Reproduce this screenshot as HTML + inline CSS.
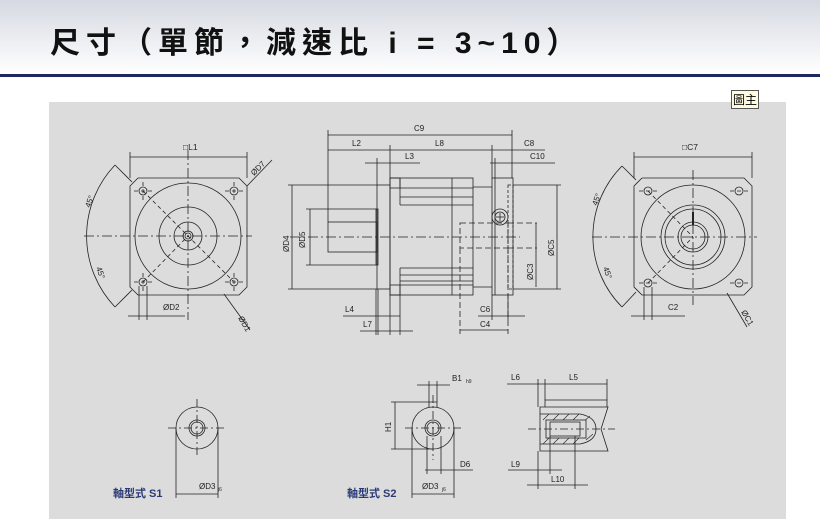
<!DOCTYPE html>
<html><head><meta charset="utf-8"><style>
html,body{margin:0;padding:0;width:820px;height:529px;overflow:hidden;background:#fff}
.hdr{position:absolute;left:0;top:0;width:820px;height:74px;background:linear-gradient(#d6d9e2,#ffffff)}
.title{position:absolute;left:50px;top:18px;font:bold 30px "Liberation Sans","Noto Sans CJK TC",sans-serif;color:#111;letter-spacing:6px;white-space:nowrap}
.line{position:absolute;left:0;top:74px;width:820px;height:3px;background:#1e2a5c}
.panel{position:absolute;left:49px;top:102px;width:737px;height:417px;background:#dcdcdc}
.tag{position:absolute;left:731px;top:90px;width:26px;height:17px;border:1px solid #555;background:#fffbe0;font:12px "Noto Sans CJK TC",sans-serif;line-height:17px;text-align:center;color:#000}
svg{position:absolute;left:0;top:0}
</style></head><body>
<div class="hdr"></div>
<div class="title">尺寸（單節，減速比 i = 3~10）</div>
<div class="line"></div>
<div class="panel"></div>
<div class="tag">圖主</div>
<svg width="820" height="529" viewBox="0 0 820 529" font-family="Liberation Sans, sans-serif" font-size="8" fill="none" stroke="#222" stroke-width="0.8">
<!-- LEFT VIEW -->
<g>
<path d="M138,178 L239,178 L247,186 L247,287 L239,295 L138,295 L130,287 L130,186 Z"/>
<circle cx="188" cy="236" r="53"/><circle cx="188" cy="236" r="29"/><circle cx="188" cy="236" r="14"/><circle cx="188" cy="236" r="5"/><circle cx="188" cy="236" r="3"/>
<g stroke-dasharray="10,3,2,3"><line x1="84" y1="236" x2="252" y2="236"/><line x1="188" y1="150" x2="188" y2="320"/></g>
<g><circle cx="143" cy="191" r="4"/><circle cx="234" cy="191" r="4"/><circle cx="143" cy="282" r="4"/><circle cx="234" cy="282" r="4"/></g>
<g stroke-dasharray="4,3"><line x1="134" y1="191" x2="152" y2="191"/><line x1="225" y1="191" x2="243" y2="191"/><line x1="134" y1="282" x2="152" y2="282"/><line x1="225" y1="282" x2="243" y2="282"/><line x1="143" y1="182" x2="143" y2="200"/><line x1="234" y1="182" x2="234" y2="200"/><line x1="143" y1="273" x2="143" y2="291"/><line x1="234" y1="273" x2="234" y2="291"/><line x1="143" y1="191" x2="233" y2="281"/><line x1="143" y1="282" x2="188" y2="236"/></g>
<path d="M115,165 A103,103 0 0 0 115,307"/>
<line x1="115" y1="165" x2="132" y2="182"/><line x1="115" y1="307" x2="132" y2="290"/>
<line x1="130" y1="157" x2="247" y2="157"/><line x1="130" y1="152" x2="130" y2="178"/><line x1="247" y1="152" x2="247" y2="178"/>
<line x1="247" y1="186" x2="272" y2="160"/><line x1="224" y1="294" x2="250" y2="330"/>
<line x1="128" y1="316" x2="185" y2="316"/><line x1="139" y1="286" x2="139" y2="320"/><line x1="147" y1="286" x2="147" y2="320"/>
</g>
<g fill="#222" stroke="none">
<text x="183" y="150" font-size="8.5">□L1</text><text x="163" y="310">ØD2</text>
<text transform="translate(254,176) rotate(-45)">ØD7</text>
<text transform="translate(238,318) rotate(60)">ØD1</text>
<text transform="translate(90,208) rotate(-70)">45°</text>
<text transform="translate(96,268) rotate(70)">45°</text>
</g>
<!-- MIDDLE VIEW -->
<g>
<rect x="328" y="222" width="49" height="30"/>
<rect x="376" y="209" width="2" height="56"/>
<rect x="377" y="185" width="13" height="104"/>
<rect x="390" y="178" width="83" height="117"/>
<rect x="390" y="178" width="10" height="10"/><rect x="390" y="285" width="10" height="10"/>
<line x1="400" y1="188" x2="473" y2="188"/><line x1="400" y1="197" x2="473" y2="197"/><line x1="400" y1="205" x2="473" y2="205"/>
<line x1="400" y1="268" x2="473" y2="268"/><line x1="400" y1="275" x2="473" y2="275"/><line x1="400" y1="281" x2="473" y2="281"/><line x1="400" y1="285" x2="473" y2="285"/>
<line x1="400" y1="178" x2="400" y2="205"/><line x1="400" y1="268" x2="400" y2="295"/>
<line x1="452" y1="178" x2="452" y2="295"/>
<line x1="473" y1="187" x2="492" y2="187"/><line x1="473" y1="287" x2="492" y2="287"/>
<rect x="492" y="178" width="21" height="117"/>
<line x1="495" y1="178" x2="495" y2="295"/>
<rect x="508" y="185" width="5" height="104" stroke-dasharray="3,2"/>
<circle cx="500" cy="217" r="8"/><circle cx="500" cy="217" r="5"/>
<line x1="496" y1="217" x2="504" y2="217"/><line x1="500" y1="213" x2="500" y2="221"/>
<g stroke-dasharray="6,3"><rect x="460" y="223" width="48" height="25"/><line x1="508" y1="223" x2="537" y2="223"/><line x1="508" y1="248" x2="537" y2="248"/><line x1="460" y1="248" x2="460" y2="334"/><line x1="508" y1="248" x2="508" y2="334"/></g>
<line x1="290" y1="237" x2="520" y2="237" stroke-dasharray="10,3,2,3"/>
<line x1="328" y1="135" x2="512" y2="135"/><line x1="328" y1="130" x2="328" y2="222"/><line x1="512" y1="130" x2="512" y2="178"/>
<line x1="328" y1="150" x2="545" y2="150"/><line x1="390" y1="145" x2="390" y2="178"/><line x1="492" y1="145" x2="492" y2="178"/>
<line x1="365" y1="163" x2="420" y2="163"/><line x1="377" y1="158" x2="377" y2="185"/><line x1="490" y1="163" x2="555" y2="163"/><line x1="495" y1="158" x2="495" y2="178"/>
<line x1="292" y1="185" x2="292" y2="289"/><line x1="288" y1="185" x2="377" y2="185"/><line x1="288" y1="289" x2="377" y2="289"/>
<line x1="310" y1="209" x2="310" y2="265"/><line x1="306" y1="209" x2="376" y2="209"/><line x1="306" y1="265" x2="376" y2="265"/>
<line x1="557" y1="185" x2="557" y2="289"/><line x1="513" y1="185" x2="561" y2="185"/><line x1="513" y1="289" x2="561" y2="289"/>
<line x1="536" y1="223" x2="536" y2="287"/>
<line x1="343" y1="316" x2="400" y2="316"/><line x1="376" y1="289" x2="376" y2="335"/><line x1="378" y1="289" x2="378" y2="335"/>
<line x1="360" y1="331" x2="413" y2="331"/><line x1="390" y1="295" x2="390" y2="335"/><line x1="400" y1="295" x2="400" y2="335"/>
<line x1="478" y1="316" x2="525" y2="316"/><line x1="492" y1="295" x2="492" y2="320"/><line x1="508" y1="295" x2="508" y2="320"/>
<line x1="460" y1="330" x2="508" y2="330"/>
</g>
<g fill="#222" stroke="none">
<text x="414" y="131">C9</text><text x="352" y="146">L2</text><text x="435" y="146">L8</text><text x="524" y="146">C8</text>
<text x="405" y="159">L3</text><text x="530" y="159">C10</text>
<text x="345" y="312">L4</text><text x="363" y="327">L7</text><text x="480" y="312">C6</text><text x="480" y="327">C4</text>
<text transform="translate(289,252) rotate(-90)">ØD4</text>
<text transform="translate(305,248) rotate(-90)">ØD5</text>
<text transform="translate(554,256) rotate(-90)">ØC5</text>
<text transform="translate(533,280) rotate(-90)">ØC3</text>
</g>
<!-- RIGHT VIEW -->
<g>
<path d="M642,178 L744,178 L752,186 L752,287 L744,295 L642,295 L634,287 L634,186 Z"/>
<circle cx="693" cy="237" r="52"/><circle cx="693" cy="237" r="32"/><circle cx="693" cy="237" r="28"/><circle cx="693" cy="237" r="15"/><circle cx="693" cy="237" r="12"/>
<line x1="693" y1="212" x2="693" y2="225" stroke-width="2"/>
<g stroke-dasharray="10,3,2,3"><line x1="592" y1="237" x2="757" y2="237"/><line x1="693" y1="170" x2="693" y2="305"/></g>
<circle cx="648" cy="191" r="4"/><circle cx="739" cy="191" r="4"/><circle cx="648" cy="283" r="4"/><circle cx="739" cy="283" r="4"/>
<g stroke-dasharray="4,3"><line x1="648" y1="191" x2="693" y2="237"/><line x1="648" y1="283" x2="693" y2="237"/><line x1="639" y1="191" x2="657" y2="191"/><line x1="639" y1="283" x2="657" y2="283"/><line x1="730" y1="191" x2="748" y2="191"/><line x1="730" y1="283" x2="748" y2="283"/></g>
<path d="M622,166 A100,100 0 0 0 622,307"/>
<line x1="622" y1="166" x2="636" y2="180"/><line x1="622" y1="307" x2="636" y2="292"/>
<line x1="634" y1="157" x2="752" y2="157"/><line x1="634" y1="152" x2="634" y2="178"/><line x1="752" y1="152" x2="752" y2="178"/>
<line x1="631" y1="316" x2="685" y2="316"/><line x1="644" y1="287" x2="644" y2="320"/><line x1="652" y1="287" x2="652" y2="320"/>
<line x1="727" y1="293" x2="747" y2="327"/>
</g>
<g fill="#222" stroke="none">
<text x="682" y="150" font-size="8.5">□C7</text><text x="668" y="310">C2</text>
<text transform="translate(741,312) rotate(60)">ØC1</text>
<text transform="translate(597,206) rotate(-70)">45°</text>
<text transform="translate(603,268) rotate(70)">45°</text>
</g>
<!-- S1 -->
<g>
<circle cx="197" cy="428" r="21"/><circle cx="197" cy="428" r="8"/><circle cx="197" cy="428" r="6"/>
<g stroke-dasharray="8,3,2,3"><line x1="168" y1="428" x2="226" y2="428"/><line x1="197" y1="399" x2="197" y2="457"/></g>
<line x1="176" y1="428" x2="176" y2="498"/><line x1="218" y1="428" x2="218" y2="498"/><line x1="176" y1="494" x2="218" y2="494"/>
</g>
<!-- S2 -->
<g>
<path d="M429,407 L429,402 L437,402 L437,407"/>
<circle cx="433" cy="428" r="21"/><circle cx="433" cy="428" r="8"/><circle cx="433" cy="428" r="6"/>
<g stroke-dasharray="8,3,2,3"><line x1="405" y1="428" x2="461" y2="428"/><line x1="433" y1="395" x2="433" y2="460"/></g>
<line x1="395" y1="402" x2="395" y2="449"/><line x1="391" y1="402" x2="429" y2="402"/><line x1="391" y1="449" x2="433" y2="449"/>
<line x1="417" y1="385" x2="450" y2="385"/><line x1="429" y1="381" x2="429" y2="402"/><line x1="437" y1="381" x2="437" y2="402"/>
<line x1="425" y1="470" x2="473" y2="470"/><line x1="427" y1="436" x2="427" y2="474"/><line x1="441" y1="436" x2="441" y2="474"/>
<line x1="412" y1="428" x2="412" y2="498"/><line x1="454" y1="428" x2="454" y2="498"/><line x1="412" y1="494" x2="454" y2="494"/>
</g>
<!-- Shaft detail -->
<g>
<path d="M545,407 L545,400 L607,400 L607,407"/>
<path d="M540,407 L608,407 L601,429 L608,451 L540,451 Z"/>
<path d="M540,414 L580,414 Q596,417 596,429 Q596,441 580,444 L540,444"/>
<g stroke-width="0.6"><line x1="543" y1="420" x2="549" y2="414"/><line x1="553" y1="420" x2="559" y2="414"/><line x1="563" y1="420" x2="569" y2="414"/><line x1="573" y1="420" x2="579" y2="414"/><line x1="583" y1="422" x2="590" y2="416"/><line x1="543" y1="444" x2="549" y2="438"/><line x1="553" y1="444" x2="559" y2="438"/><line x1="563" y1="444" x2="569" y2="438"/><line x1="573" y1="444" x2="579" y2="438"/><line x1="586" y1="440" x2="593" y2="434"/></g>
<rect x="546" y="420" width="40" height="18" fill="#dcdcdc"/>
<rect x="550" y="422" width="30" height="14" fill="#dcdcdc"/>
<line x1="528" y1="429" x2="615" y2="429" stroke-dasharray="8,3,2,3"/>
<line x1="507" y1="384" x2="607" y2="384"/><line x1="538" y1="379" x2="538" y2="407"/><line x1="545" y1="379" x2="545" y2="400"/><line x1="607" y1="379" x2="607" y2="400"/>
<line x1="508" y1="470" x2="562" y2="470"/><line x1="538" y1="451" x2="538" y2="489"/><line x1="550" y1="436" x2="550" y2="474"/>
<line x1="527" y1="485" x2="588" y2="485"/><line x1="575" y1="436" x2="575" y2="489"/>
</g>
<g fill="#222" stroke="none">
<text x="199" y="489">ØD3</text><text x="218" y="491" font-size="5">j6</text>
<text x="422" y="489">ØD3</text><text x="442" y="491" font-size="5">j6</text>
<text x="452" y="381">B1</text><text x="466" y="383" font-size="5">h9</text>
<text transform="translate(391,432) rotate(-90)">H1</text>
<text x="460" y="467">D6</text>
<text x="511" y="380">L6</text><text x="569" y="380">L5</text>
<text x="511" y="467">L9</text><text x="551" y="482">L10</text>
<g font-family="Liberation Sans, Noto Sans CJK TC, sans-serif" font-weight="bold" font-size="11" fill="#2a3a78">
<text x="113" y="497">軸型式 S1</text><text x="347" y="497">軸型式 S2</text></g>
</g>
</svg>
</body></html>
